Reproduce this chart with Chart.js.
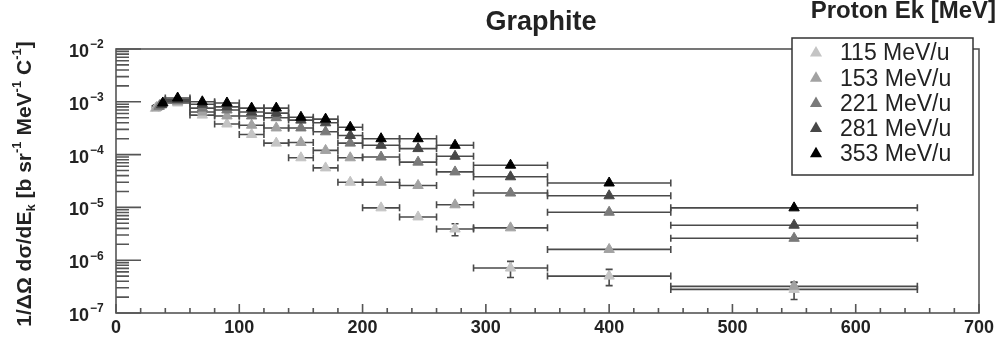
<!DOCTYPE html>
<html>
<head>
<meta charset="utf-8">
<script src="https://cdn.jsdelivr.net/npm/chart.js@4.4.1/dist/chart.umd.min.js"></script>
<style>
  html, body { margin: 0; padding: 0; background: #fff; }
  #plot { display: block; }
</style>
</head>
<body>
<canvas id="plot" width="1000" height="339"></canvas>
<script>
// beam energies (legend) and marker greys
const series = ['115 MeV/u', '153 MeV/u', '221 MeV/u', '281 MeV/u', '353 MeV/u'];
const seriesColors = ['#c4c4c4', '#a2a2a2', '#7a7a7a', '#474747', '#000000'];

// proton energy bins [MeV]
const binLow    = [40, 60, 80, 100, 120, 140, 160, 180, 200, 230, 260, 290, 350, 450];
const binHigh   = [60, 80, 100, 120, 140, 160, 180, 200, 230, 260, 290, 350, 450, 650];
const binCenter = [50, 70, 90, 110, 130, 150, 170, 190, 215, 245, 275, 320, 400, 550];

// lowest-energy point of each series (narrow bin)
const firstE   = [32, 33, 35, 37, 38];
const firstVal = [7.5e-4, 7.8e-4, 8.2e-4, 8.8e-4, 9.5e-4];

// 1/dOmega dsigma/dEk [b sr^-1 MeV^-1 C^-1]
const val115 = [9.5e-4, 5.6e-4, 3.8e-4, 2.4e-4, 1.65e-4, 8.7e-5, 5.6e-5, 3.0e-5, 9.8e-6, 6.6e-6, 3.9e-6, 7.1e-7, 5.0e-7, 2.8e-7];
const val153 = [1.0e-3, 6.4e-4, 5.4e-4, 3.6e-4, 3.2e-4, 1.7e-4, 1.2e-4, 8.7e-5, 3.0e-5, 2.6e-5, 1.12e-5, 4.1e-6, 1.6e-6, 3.2e-7];
const val221 = [1.05e-3, 7.6e-4, 7.0e-4, 5.4e-4, 5.0e-4, 3.2e-4, 2.7e-4, 1.65e-4, 9.0e-5, 7.2e-5, 4.7e-5, 1.87e-5, 8.1e-6, 2.6e-6];
const val281 = [1.1e-3, 9.0e-4, 8.0e-4, 6.4e-4, 6.1e-4, 4.5e-4, 4.0e-4, 2.3e-4, 1.5e-4, 1.3e-4, 9.3e-5, 3.8e-5, 1.66e-5, 4.6e-6];
const val353 = [1.18e-3, 1.0e-3, 9.5e-4, 7.6e-4, 7.6e-4, 5.1e-4, 4.7e-4, 3.3e-4, 2.0e-4, 2.0e-4, 1.5e-4, 6.3e-5, 2.9e-5, 9.8e-6];

// statistical errors (only visible ones)
const err115 = [0, 0, 0, 0, 0, 0, 0, 0, 0, 0, 1.0e-6, 2.4e-7, 1.7e-7, 1.0e-7];
const err153 = [0, 0, 0, 0, 0, 0, 0, 0, 0, 0, 0, 0, 0, 0.6e-7];

const allVals = [val115, val153, val221, val281, val353];
const allErrs = [err115, err153, null, null, null];

const xTicks = [0, 100, 200, 300, 400, 500, 600, 700];
const yTickExps = [-7, -6, -5, -4, -3, -2];

const FONT = '"Liberation Sans", Arial, Helvetica, sans-serif';

function buildData(i) {
  const pts = [{ x: firstE[i], y: firstVal[i], xl: firstE[i] - 2.5, xh: firstE[i] + 2.5, e: 0 }];
  allVals[i].forEach((v, k) => {
    pts.push({
      x: binCenter[k], y: v, xl: binLow[k], xh: binHigh[k],
      e: allErrs[i] ? allErrs[i][k] : 0
    });
  });
  return pts;
}

const datasets = series.map((name, i) => ({
  label: name,
  data: buildData(i),
  showLine: false,
  pointStyle: 'triangle',
  pointRadius: 6,
  pointBackgroundColor: seriesColors[i],
  pointBorderColor: seriesColors[i],
  pointBorderWidth: 1,
  order: series.length - i
}));

// horizontal bin widths + vertical error bars, under the markers
const errorBars = {
  id: 'errorBars',
  beforeDatasetsDraw(chart) {
    const { ctx, scales: { x, y } } = chart;
    ctx.save();
    ctx.strokeStyle = '#4a4a4a';
    ctx.lineWidth = 1.6;
    chart.data.datasets.forEach(ds => {
      ds.data.forEach(p => {
        const py = y.getPixelForValue(p.y);
        const x1 = x.getPixelForValue(p.xl);
        const x2 = x.getPixelForValue(p.xh);
        ctx.beginPath();
        ctx.moveTo(x1, py); ctx.lineTo(x2, py);
        ctx.moveTo(x1, py - 3.5); ctx.lineTo(x1, py + 3.5);
        ctx.moveTo(x2, py - 3.5); ctx.lineTo(x2, py + 3.5);
        if (p.e) {
          const px = x.getPixelForValue(p.x);
          const yt = y.getPixelForValue(p.y + p.e);
          const yb = y.getPixelForValue(p.y - p.e);
          ctx.moveTo(px, yt); ctx.lineTo(px, yb);
          ctx.moveTo(px - 3.5, yt); ctx.lineTo(px + 3.5, yt);
          ctx.moveTo(px - 3.5, yb); ctx.lineTo(px + 3.5, yb);
        }
        ctx.stroke();
      });
    });
    ctx.restore();
  }
};

function triangle(ctx, cx, cy, r, color) {
  ctx.beginPath();
  ctx.moveTo(cx, cy - r);
  ctx.lineTo(cx + r * 0.866, cy + r * 0.5);
  ctx.lineTo(cx - r * 0.866, cy + r * 0.5);
  ctx.closePath();
  ctx.fillStyle = color;
  ctx.fill();
}

// ROOT-like frame, ticks, labels, titles and legend
const decorations = {
  id: 'decorations',
  afterDraw(chart) {
    const { ctx, chartArea: a, scales: { x, y } } = chart;
    ctx.save();
    ctx.strokeStyle = '#555';
    ctx.lineWidth = 1.6;
    ctx.strokeRect(a.left, a.top, a.right - a.left, a.bottom - a.top);

    // x ticks (inside, upward)
    ctx.beginPath();
    for (let v = 0; v <= 700; v += 20) {
      const px = x.getPixelForValue(v);
      const len = v % 100 === 0 ? 9 : 5;
      ctx.moveTo(px, a.bottom); ctx.lineTo(px, a.bottom - len);
    }
    ctx.stroke();

    // y ticks (log, inside)
    ctx.beginPath();
    for (let e = -7; e <= -2; e++) {
      const py = y.getPixelForValue(Math.pow(10, e));
      ctx.moveTo(a.left, py); ctx.lineTo(a.left + 25, py);
      if (e < -2) {
        for (let m = 2; m <= 9; m++) {
          const pm = y.getPixelForValue(m * Math.pow(10, e));
          ctx.moveTo(a.left, pm); ctx.lineTo(a.left + 13, pm);
        }
      }
    }
    ctx.stroke();

    // y tick labels 10^n
    ctx.fillStyle = '#222';
    ctx.textBaseline = 'middle';
    yTickExps.forEach(e => {
      const py = y.getPixelForValue(Math.pow(10, e));
      ctx.font = 'bold 18px ' + FONT;
      ctx.textAlign = 'right';
      ctx.fillText('10', 89, py + 3);
      ctx.font = 'bold 12px ' + FONT;
      ctx.textAlign = 'left';
      ctx.fillText('\u2212' + Math.abs(e), 90, py - 4);
    });

    // y axis title
    ctx.translate(24, 184);
    ctx.rotate(-Math.PI / 2);
    const parts = [
      ['1/\u0394\u03A9 d\u03C3/dE', 0], ['k', 1], [' [b sr', 0], ['-1', -1],
      [' MeV', 0], ['-1', -1], [' C', 0], ['-1', -1], [']', 0]
    ];
    const fontFor = s => (s === 0 ? 'bold 21px ' : 'bold 13px ') + FONT;
    let total = 0;
    parts.forEach(([t, s]) => { ctx.font = fontFor(s); total += ctx.measureText(t).width; });
    let cx = -total / 2;
    ctx.textAlign = 'left';
    ctx.textBaseline = 'alphabetic';
    parts.forEach(([t, s]) => {
      ctx.font = fontFor(s);
      const dy = s === 0 ? 7 : (s === 1 ? 11 : -3);
      ctx.fillText(t, cx, dy);
      cx += ctx.measureText(t).width;
    });
    ctx.setTransform(1, 0, 0, 1, 0, 0);

    // titles
    ctx.fillStyle = '#222';
    ctx.textAlign = 'center';
    ctx.textBaseline = 'middle';
    ctx.font = 'bold 27px ' + FONT;
    ctx.fillText('Graphite', 541, 23);
    ctx.textAlign = 'right';
    ctx.font = 'bold 24px ' + FONT;
    ctx.fillText('Proton Ek [MeV]', 996, 11);

    // legend
    const lx = 792, ly = 38, lw = 181, lh = 137;
    ctx.fillStyle = '#fff';
    ctx.fillRect(lx, ly, lw, lh);
    ctx.strokeStyle = '#333';
    ctx.lineWidth = 1.5;
    ctx.strokeRect(lx, ly, lw, lh);
    ctx.font = '23px ' + FONT;
    ctx.textAlign = 'left';
    series.forEach((name, i) => {
      const ry = 54 + i * 25.2;
      triangle(ctx, 816, ry - 1, 7, seriesColors[i]);
      ctx.fillStyle = '#222';
      ctx.fillText(name, 840, ry);
    });
    ctx.restore();
  }
};

new Chart(document.getElementById('plot'), {
  type: 'scatter',
  data: { datasets },
  options: {
    responsive: false,
    animation: false,
    devicePixelRatio: 1,
    layout: { padding: { top: 49, right: 21, left: 0, bottom: 0 } },
    plugins: { legend: { display: false }, tooltip: { enabled: false } },
    scales: {
      x: {
        type: 'linear',
        min: 0,
        max: 700,
        afterFit: s => { s.height = 26; },
        afterBuildTicks: s => { s.ticks = xTicks.map(v => ({ value: v })); },
        grid: { display: false, drawTicks: false },
        border: { display: false },
        ticks: {
          padding: 4,
          maxRotation: 0,
          color: '#222',
          font: { family: FONT, size: 18, weight: 'bold' }
        }
      },
      y: {
        type: 'logarithmic',
        min: 1e-7,
        max: 1e-2,
        afterFit: s => { s.width = 116; },
        grid: { display: false, drawTicks: false },
        border: { display: false },
        ticks: { display: false }
      }
    }
  },
  plugins: [errorBars, decorations]
});
</script>
</body>
</html>
